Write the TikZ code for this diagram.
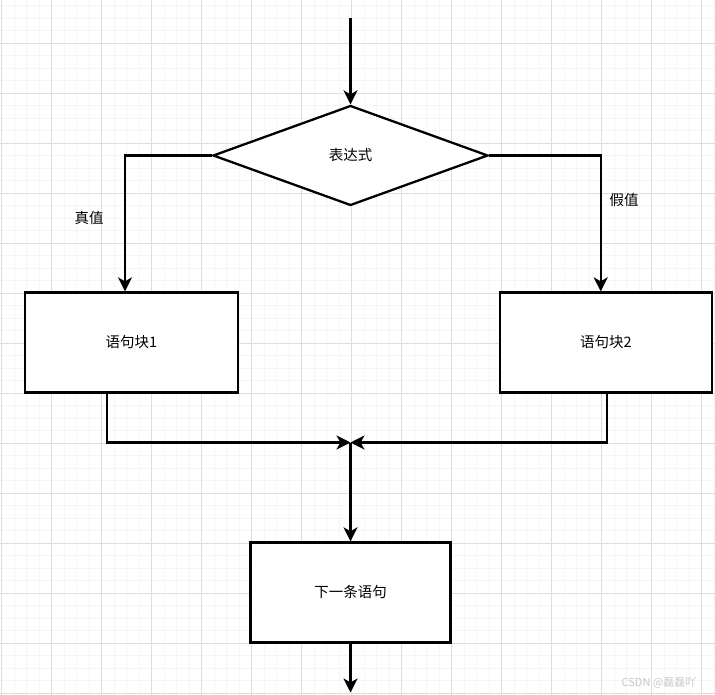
\documentclass[tikz,border=0pt]{standalone}
\usepackage{fontspec}
\newfontfamily\cjk{Noto Sans CJK SC}
\usetikzlibrary{positioning}
\usetikzlibrary{arrows.meta}
\usetikzlibrary{shapes.geometric}

\begin{document}
\begin{tikzpicture}[
        x=1pt, y=-1pt,
        >={Stealth[length=14pt,width=14pt,inset=4pt]},
        line width=2.3pt,
        block/.style={
            rectangle,
            draw,
            fill=white,
            minimum height=100pt,
            font=\cjk\fontsize{14.5}{17}\selectfont,
        },
        decision/.style={
            diamond,
            draw,
            fill=white,
            inner sep=0pt,
            minimum width=275pt,
            minimum height=100pt,
            font=\cjk\fontsize{14.5}{17}\selectfont,
        },
        label/.style={
            font=\cjk\fontsize{14.5}{17}\selectfont,
        }
    ]

    \useasboundingbox (0,0) rectangle (715,695);
    \fill[white] (0,0) rectangle (715,695);

    % grid
    \foreach \i in {0,...,57}
        \draw[line width=0.8pt, color={rgb,255:red,245;green,245;blue,245}] (1.7+12.5*\i,0) -- (1.7+12.5*\i,695);
    \foreach \i in {0,...,55}
        \draw[line width=0.8pt, color={rgb,255:red,245;green,245;blue,245}] (0,5.8+12.5*\i) -- (715,5.8+12.5*\i);
    \foreach \i in {0,...,14}
        \draw[line width=0.9pt, color={rgb,255:red,222;green,222;blue,222}] (1.7+50*\i,0) -- (1.7+50*\i,695);
    \foreach \i in {0,...,13}
        \draw[line width=0.9pt, color={rgb,255:red,222;green,222;blue,222}] (0,43.3+50*\i) -- (715,43.3+50*\i);

    \coordinate (start) at (350.5,18);
    \node (cond) at (350.5,155.5) [decision] {表达式};
    \node (b1) at (131.5,342.5) [block, minimum width=213pt] {语句块1};
    \node (b2) at (606,342.5) [block, minimum width=212pt] {语句块2};
    \coordinate (merge) at (350.5,442.5);
    \node (next) at (350.5,592.5) [block, minimum width=200pt] {下一条语句};
    \coordinate (end) at (350.5,692.5);

    \node (yes) at (89,218) [label] {真值};
    \node (no) at (624,200) [label] {假值};

    \draw [->] (start) -- (cond.north);
    \draw [->] (cond.west) -| ([xshift=-6.5pt]b1.north);
    \draw [->] (cond.east) -| ([xshift=-5.3pt]b2.north);
    \draw [->] ([xshift=-24.8pt]b1.south) |- (merge);
    \draw [->] ([xshift=0.7pt]b2.south) |- (merge);
    \draw [->] (merge) -- (next.north);
    \draw [->] (next.south) -- (end);

    \node (mark) at (659,683) [font=\cjk\fontsize{11}{13}\selectfont, text={rgb,255:red,200;green,200;blue,200}] {CSDN @磊磊吖};

    \end{tikzpicture}
\end{document}
